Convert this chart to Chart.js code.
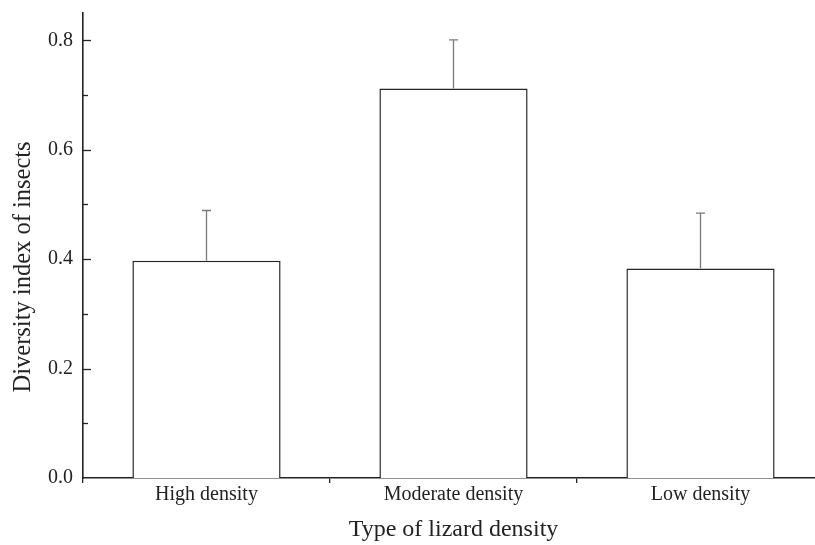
<!DOCTYPE html>
<html>
<head>
<meta charset="utf-8">
<script src="https://cdn.jsdelivr.net/npm/chart.js@4/dist/chart.umd.min.js"></script>
<style>
  html, body { margin: 0; padding: 0; background: #fff; overflow: hidden; }
  #wrap { width: 830px; height: 545px; }
</style>
</head>
<body>
<div id="wrap"><canvas id="chart" width="830" height="545"></canvas></div>
<script>
const categories = ["High density", "Moderate density", "Low density"];
const diversity = [0.397, 0.712, 0.383];
const errors = [0.092, 0.089, 0.101];
const yTicks = [0.0, 0.2, 0.4, 0.6, 0.8];
const yMinorTicks = [0.1, 0.3, 0.5, 0.7];

const serif = '"Liberation Serif", "Times New Roman", serif';
const ink = "#222222";

const errorBars = {
  id: "errorBars",
  afterDatasetsDraw(chart) {
    const { ctx, scales: { y } } = chart;
    const meta = chart.getDatasetMeta(0);
    ctx.save();
    ctx.strokeStyle = "#7a7a7a";
    ctx.lineWidth = 1.3;
    meta.data.forEach((bar, i) => {
      const top = y.getPixelForValue(diversity[i]);
      const hi = y.getPixelForValue(diversity[i] + errors[i]);
      ctx.beginPath();
      ctx.moveTo(bar.x, top);
      ctx.lineTo(bar.x, hi);
      ctx.moveTo(bar.x - 4.5, hi);
      ctx.lineTo(bar.x + 4.5, hi);
      ctx.stroke();
    });
    ctx.restore();
  },
};

// y ticks point inward, with minor ticks between
const innerTicks = {
  id: "innerTicks",
  afterDraw(chart) {
    const { ctx, scales: { y }, chartArea } = chart;
    ctx.save();
    ctx.strokeStyle = ink;
    ctx.lineWidth = 1.3;
    const mark = (v, len) => {
      const py = Math.round(y.getPixelForValue(v)) + 0.5;
      ctx.beginPath();
      ctx.moveTo(chartArea.left, py);
      ctx.lineTo(chartArea.left + len, py);
      ctx.stroke();
    };
    yTicks.filter((v) => v > 0).forEach((v) => mark(v, 8));
    yMinorTicks.forEach((v) => mark(v, 5));
    ctx.restore();
  },
};

new Chart(document.getElementById("chart"), {
  type: "bar",
  data: {
    labels: categories,
    datasets: [{
      data: diversity,
      backgroundColor: "#ffffff",
      borderColor: "#262626",
      borderWidth: 1.5,
      categoryPercentage: 1,
      barPercentage: 0.6,
    }],
  },
  options: {
    responsive: false,
    animation: false,
    layout: { padding: { top: 13, right: 6, left: 0, bottom: 0 } },
    plugins: { legend: { display: false }, tooltip: { enabled: false } },
    scales: {
      x: {
        offset: true,
        grid: { drawOnChartArea: false, offset: true, tickLength: 5, color: ink, lineWidth: 1.3 },
        border: { display: true, color: ink, width: 1.6 },
        ticks: { color: ink, padding: 0, maxRotation: 0, font: { family: serif, size: 20 } },
        title: {
          display: true,
          text: "Type of lizard density",
          color: ink,
          padding: { top: 0, bottom: 1 },
          font: { family: serif, size: 24 },
        },
        afterFit(s) { s.height = 67; s.paddingLeft = 0; s.paddingRight = 0; },
      },
      y: {
        min: 0,
        max: 0.85,
        afterBuildTicks(s) { s.ticks = yTicks.map((v) => ({ value: v })); },
        grid: { display: false, drawTicks: false },
        border: { display: true, color: ink, width: 1.6 },
        ticks: {
          color: ink,
          padding: 10,
          font: { family: serif, size: 20 },
          callback: (v) => Number(v).toFixed(1),
        },
        title: {
          display: true,
          // trailing spaces push the rotated title a little lower, as in the original
          text: "Diversity index of insects       ",
          color: ink,
          padding: { top: 9, bottom: 0 },
          font: { family: serif, size: 24.5 },
        },
        afterFit(s) { s.width = 83; s.paddingTop = 0; s.paddingBottom = 0; },
      },
    },
  },
  plugins: [errorBars, innerTicks],
});
</script>
</body>
</html>
